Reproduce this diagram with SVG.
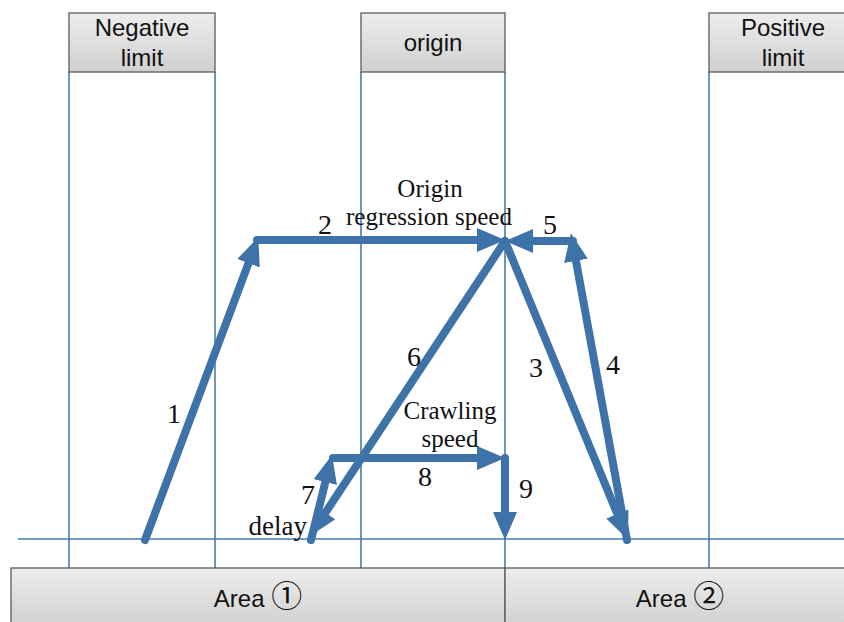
<svg xmlns="http://www.w3.org/2000/svg" width="844" height="622" viewBox="0 0 844 622">
<defs>
<linearGradient id="boxg" x1="0" y1="0" x2="0" y2="1">
<stop offset="0" stop-color="#ededed"/>
<stop offset="1" stop-color="#d0d0d0"/>
</linearGradient>
<marker id="ah" markerUnits="userSpaceOnUse" markerWidth="28" markerHeight="24" viewBox="0 0 28 24" refX="12" refY="12" orient="auto">
<path d="M0,0 L28,12 L0,24 z" fill="#3e73a9"/>
</marker>
<style>
.box{fill:url(#boxg);stroke:#5a5a5a;stroke-width:1.3}
.bt{font-family:"Liberation Sans",Arial,sans-serif;font-size:24px;fill:#111;text-anchor:middle}
.circ{font-family:"Noto Sans CJK SC","DejaVu Sans",sans-serif;font-size:31px}
.guide{stroke:#4a7bb1;stroke-width:1.6;fill:none}
.arr{stroke:#3e73a9;stroke-width:8;fill:none;stroke-linecap:round;marker-end:url(#ah)}
.lbl{font-family:"Liberation Serif","Times New Roman",serif;font-size:25px;fill:#111;text-anchor:middle}
.num{font-family:"Liberation Serif","Times New Roman",serif;font-size:28px;fill:#111;text-anchor:middle}
</style>
</defs>
<rect width="844" height="622" fill="#fff"/>
<g id="guides">
<line class="guide" x1="69" y1="72" x2="69" y2="568"/>
<line class="guide" x1="215" y1="72" x2="215" y2="568"/>
<line class="guide" x1="361" y1="72" x2="361" y2="568"/>
<line class="guide" x1="505" y1="72" x2="505" y2="568"/>
<line class="guide" x1="709" y1="72" x2="709" y2="568"/>
<line class="guide" x1="18" y1="539" x2="844" y2="539"/>
</g>
<g id="negative-limit">
<rect class="box" x="69" y="13" width="146" height="59"/>
<text class="bt" x="142" y="36">Negative</text>
<text class="bt" x="142" y="66">limit</text>
</g>
<g id="origin">
<rect class="box" x="361" y="13" width="144" height="59"/>
<text class="bt" x="433" y="51">origin</text>
</g>
<g id="positive-limit">
<rect class="box" x="709" y="13" width="146" height="59"/>
<text class="bt" x="783" y="36">Positive</text>
<text class="bt" x="783" y="66">limit</text>
</g>
<g id="area1">
<rect class="box" x="11" y="568" width="494" height="60"/>
<text class="bt" x="258" y="607">Area <tspan class="circ">①</tspan></text>
</g>
<g id="area2">
<rect class="box" x="505" y="568" width="350" height="60"/>
<text class="bt" x="680" y="607">Area <tspan class="circ">②</tspan></text>
</g>
<g id="connectors">
<line class="arr" x1="145" y1="540" x2="252.7" y2="252"/>
<line class="arr" x1="257" y1="240" x2="489" y2="240"/>
<line class="arr" x1="573" y1="241" x2="521" y2="241"/>
<line class="arr" x1="627" y1="540" x2="573.8" y2="249"/>
<line class="arr" x1="505" y1="241" x2="621.9" y2="525"/>
<line class="arr" x1="505" y1="241" x2="318.8" y2="522.7"/>
<line class="arr" x1="311" y1="540" x2="328.2" y2="470.5"/>
<line class="arr" x1="333" y1="458" x2="489" y2="458"/>
<line class="arr" x1="505" y1="458" x2="505" y2="524"/>
</g>
<g id="labels">
<text class="lbl" x="430" y="197">Origin</text>
<text class="lbl" x="429" y="225">regression speed</text>
<text class="lbl" x="450" y="419">Crawling</text>
<text class="lbl" x="450" y="447">speed</text>
<text class="lbl" x="307" y="535" style="text-anchor:end;font-size:27px">delay</text>
<text class="num" x="174" y="423">1</text>
<text class="num" x="325" y="234">2</text>
<text class="num" x="536" y="377">3</text>
<text class="num" x="613" y="374">4</text>
<text class="num" x="550" y="234">5</text>
<text class="num" x="414" y="366">6</text>
<text class="num" x="308" y="504">7</text>
<text class="num" x="425" y="486">8</text>
<text class="num" x="526" y="498">9</text>
</g>
</svg>
